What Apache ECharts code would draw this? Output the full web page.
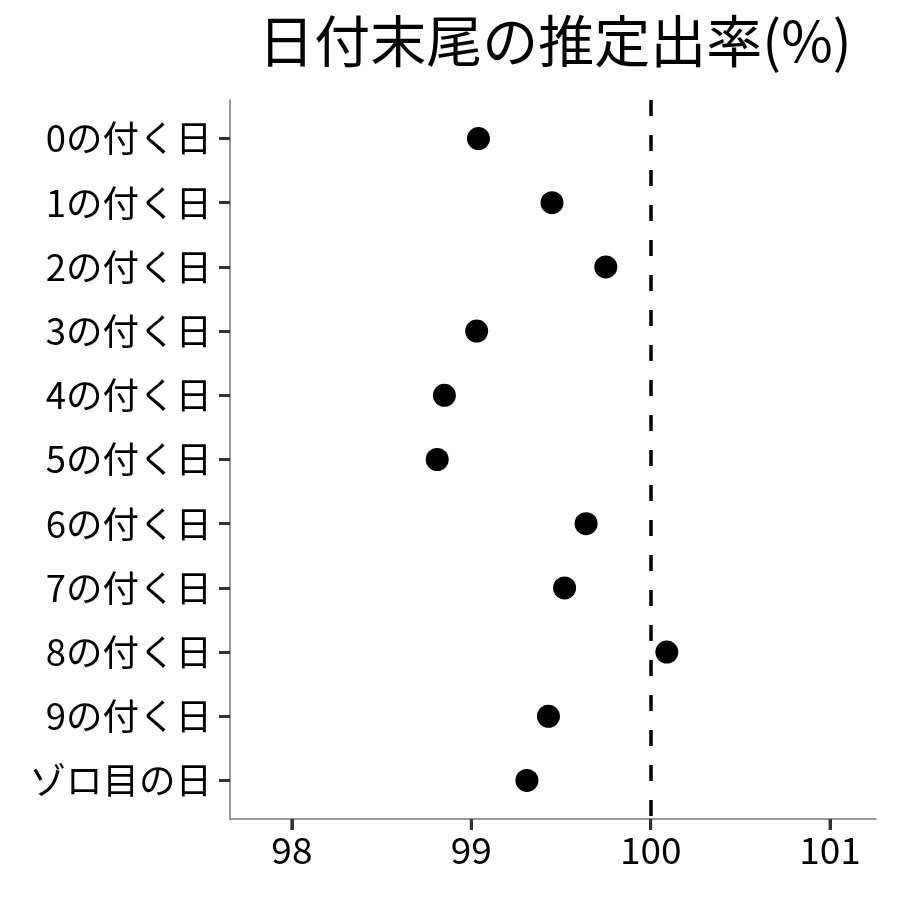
<!DOCTYPE html>
<html><head><meta charset="utf-8">
<script src="https://cdn.jsdelivr.net/npm/echarts@6/dist/echarts.min.js"></script>
<style>html,body{margin:0;padding:0;background:#fff}#c{width:900px;height:900px}</style>
</head><body><div id="c"></div>
<script>
const categories = ['0の付く日','1の付く日','2の付く日','3の付く日','4の付く日','5の付く日','6の付く日','7の付く日','8の付く日','9の付く日','ゾロ目の日'];
const rates = [99.04, 99.45, 99.75, 99.03, 98.85, 98.81, 99.64, 99.52, 100.09, 99.43, 99.31];
const xTicks = [98, 99, 100, 101];
const refLine = 100;
const titleText = '日付末尾の推定出率(%)';

const yPad = 0.6;
const yMin = -yPad;
const yMax = categories.length - 1 + yPad;
const yIdx = categories.map((c, i) => i);

const font = '"Noto Sans CJK JP", "Noto Sans", sans-serif';
const chart = echarts.init(document.getElementById('c'), null, {renderer: 'canvas'});
chart.setOption({
  animation: false,
  backgroundColor: '#fff',
  title: {
    text: titleText, left: 550, top: 8, textAlign: 'center',
    textStyle: {fontFamily: font, fontSize: 56, fontWeight: 'normal', color: '#000'}
  },
  grid: {left: 230, right: 24, top: 100, bottom: 81},
  xAxis: {
    type: 'value', min: 97.655, max: 101.256,
    splitLine: {show: false},
    axisLine: {show: true, onZero: false, lineStyle: {color: '#777', width: 1.5}},
    axisTick: {show: true, customValues: xTicks, length: 11, lineStyle: {color: '#333', width: 3}},
    axisLabel: {customValues: xTicks, fontFamily: font, fontSize: 37, color: '#000', margin: 12,
      formatter: v => String(v)}
  },
  yAxis: {
    type: 'value', inverse: true, min: yMin, max: yMax,
    splitLine: {show: false},
    axisLine: {show: true, onZero: false, lineStyle: {color: '#777', width: 1.5}},
    axisTick: {show: true, customValues: yIdx, length: 11, lineStyle: {color: '#333', width: 3}},
    axisLabel: {customValues: yIdx, fontFamily: font, fontSize: 36.5, color: '#000', margin: 18,
      formatter: v => categories[Math.round(v)]}
  },
  series: [{
    type: 'scatter',
    symbol: 'circle', symbolSize: 23,
    itemStyle: {color: '#000', opacity: 1},
    data: rates.map((v, i) => [v, i]),
    markLine: {
      silent: true, symbol: 'none', label: {show: false},
      lineStyle: {color: '#000', width: 3.5, type: [16, 19], opacity: 1},
      data: [{xAxis: refLine}]
    }
  }]
});

// x-axis tick marks placed through the axis scales (graphic layer, never clipped)
const tickEls = xTicks.map(v => {
  const p = chart.convertToPixel({xAxisIndex: 0, yAxisIndex: 0}, [v, yMax]);
  return {
    type: 'rect', silent: true, z: 100,
    shape: {x: p[0] - 1.5, y: p[1], width: 3, height: 11},
    style: {fill: '#333'}
  };
});
chart.setOption({graphic: {elements: tickEls}});
</script></body></html>
